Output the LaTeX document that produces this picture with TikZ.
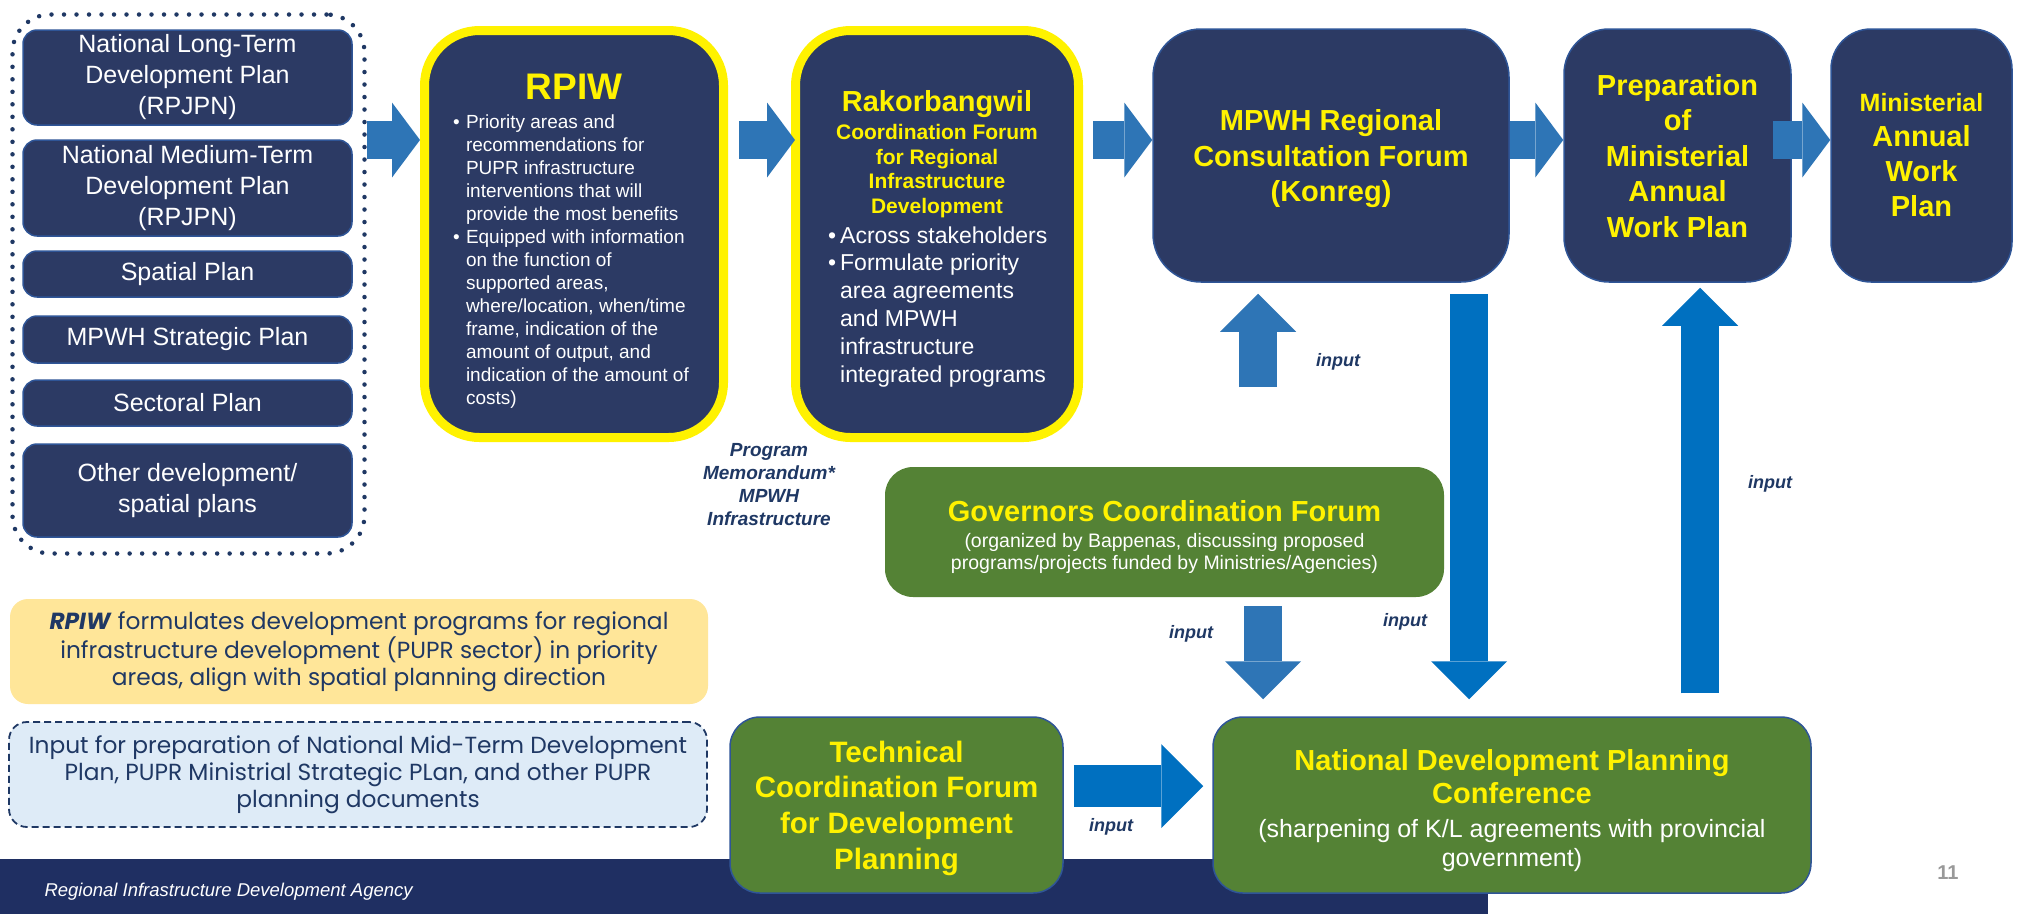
\documentclass[tikz,border=0pt]{standalone}
\usepackage{fontspec}
\setmainfont{Liberation Sans}
\newfontfamily\popfont{Poppins}
\usetikzlibrary{arrows.meta}

\definecolor{boxnavy}{HTML}{2C3A64}
\definecolor{boxedge}{HTML}{2F5597}
\definecolor{inknavy}{HTML}{1F3864}
\definecolor{flowblue}{HTML}{2E75B6}
\definecolor{deepblue}{HTML}{0070C0}
\definecolor{forumgreen}{HTML}{548235}
\definecolor{noteyellow}{HTML}{FFE699}
\definecolor{noteblue}{HTML}{DEEBF7}
\definecolor{barnavy}{HTML}{1F2F62}

% bullet paragraph with hanging indent
\newcommand{\bpt}[2][13pt]{\par\noindent\hangindent=#1\hangafter=1\makebox[#1][l]{\textbullet}#2\par}

\tikzset{
  plan/.style={fill=boxnavy, draw=boxedge, line width=1.5pt, rounded corners=14pt, inner sep=0pt,
    minimum width=329pt, text=white, align=center, font=\fontsize{25}{31}\selectfont},
  forum/.style={fill=boxnavy, draw=yellow, line width=9pt, rounded corners=55pt, inner sep=0pt},
  stage/.style={fill=boxnavy, draw=boxedge, line width=1.5pt, rounded corners=48pt, inner sep=0pt,
    minimum height=253pt, text=yellow, align=center, font=\fontsize{29}{35.5}\selectfont\bfseries},
  meeting/.style={fill=forumgreen, rounded corners=28pt, inner sep=0pt, align=center},
  note/.style={rounded corners=18pt, inner sep=0pt, minimum width=698pt, minimum height=105pt,
    align=center, text=inknavy, font=\popfont\fontsize{23.3}{27}\selectfont},
  inlabel/.style={text=inknavy, font=\fontsize{18}{22}\selectfont\bfseries\itshape},
  flow/.style={draw=flowblue, line width=38pt, -{Triangle[length=28pt,width=75pt,line width=0pt]}},
  lane/.style={draw=#1, line width=38pt, -{Triangle[length=38pt,width=76pt,line width=0pt]}},
}

\begin{document}
\begin{tikzpicture}[x=1pt,y=-1pt]
\useasboundingbox (0,0) rectangle (2022,914);
\fill[white] (0,0) rectangle (2022,914);

% footer band
\fill[barnavy] (0,859) rectangle (1488,914);
\node[anchor=west, text=white, font=\fontsize{18.5}{22}\selectfont\itshape] (footer) at (41,892) {Regional Infrastructure Development Agency};
\node[text=gray!80, font=\fontsize{20}{24}\selectfont\bfseries] (pageno) at (1948,873) {11};

% source plans
\node[draw=inknavy, line width=4.5pt, dash pattern=on 0pt off 12.5pt, line cap=round, rounded corners=38pt,
  minimum width=352pt, minimum height=539pt] (plans) at (188.5,284) {};
\foreach \nm/\cy/\bh/\txt in {ltp/77.5/95/{National Long-Term\\Development Plan\\(RPJPN)},
    mtp/188/96/{National Medium-Term\\Development Plan\\(RPJPN)},
    spatial/274/46/{Spatial Plan}, strategic/339.5/47/{MPWH Strategic Plan},
    sectoral/403/46/{Sectoral Plan}, other/490.5/93/{Other development/\\spatial plans}}
  \node[plan, minimum height=\bh pt] (\nm) at (187.5,\cy) {\txt};

% RPIW
\node[forum, minimum width=299pt, minimum height=407pt] (rpiw) at (574,234) {};
\node[text=yellow, font=\fontsize{37}{40}\selectfont\bfseries] (rpiwtitle) at (574,87) {RPIW};
\node[anchor=north, inner sep=0pt, text width=242pt, align=flush left, text=white, font=\fontsize{19}{23}\selectfont] (rpiwtext) at (574,105)
  {\bpt{Priority areas and\newline recommendations for\newline PUPR infrastructure\newline interventions that will\newline provide the most benefits}%
   \bpt{Equipped with information\newline on the function of\newline supported areas,\newline where/location, when/time\newline frame, indication of the\newline amount of output, and\newline indication of the amount of\newline costs)}};

% Rakorbangwil
\node[forum, minimum width=283pt, minimum height=407pt] (rakor) at (937,234) {};
\node[text=yellow, font=\fontsize{29}{33}\selectfont\bfseries] (rakortitle) at (937,104) {Rakorbangwil};
\node[anchor=north, inner sep=0pt, text=yellow, align=center, font=\fontsize{21}{24.7}\selectfont\bfseries] (rakorsub) at (937,124)
  {Coordination Forum\\for Regional\\Infrastructure\\Development};
\node[anchor=north west, inner sep=0pt, text width=235pt, align=flush left, text=white, font=\fontsize{23}{27.8}\selectfont] (rakortext) at (828,215)
  {\bpt[12pt]{Across stakeholders}\bpt[12pt]{Formulate priority\newline area agreements\newline and MPWH\newline infrastructure\newline integrated programs}};

% planning stages
\node[stage, minimum width=356pt, text depth=-3pt] (konreg) at (1331,155.5) {MPWH Regional\\Consultation Forum\\(Konreg)};
\node[stage, minimum width=227pt, rounded corners=45pt, text depth=-8pt] (prep) at (1677.5,155.5) {Preparation\\of\\Ministerial\\Annual\\Work Plan};
\node[stage, minimum width=181pt, rounded corners=40pt, text width=175pt, align=flush center, font=\fontsize{29}{35}\selectfont\bfseries] (annual) at (1921.5,155.5)
  {{\fontsize{25}{35}\selectfont Ministerial\par}Annual\\Work\\Plan};

% forums
\node[meeting, minimum width=559pt, minimum height=130pt] (governors) at (1164.5,532) {};
\node[text width=545pt, align=flush center, inner sep=0pt, text=white] (govtext) at (1164.5,537)
  {{\fontsize{29}{33}\selectfont\bfseries\color{yellow}Governors Coordination Forum\par}\vspace{4pt}%
   {\fontsize{19.5}{22}\selectfont(organized by Bappenas, discussing proposed\\programs/projects funded by Ministries/Agencies)\par}};
\node[meeting, draw=boxedge, line width=1.5pt, rounded corners=30pt, minimum width=333pt, minimum height=176pt, text=yellow,
  text depth=-3pt, font=\fontsize{29.5}{35.7}\selectfont\bfseries] (technical) at (896.5,805) {Technical\\Coordination Forum\\for Development\\Planning};
\node[meeting, draw=boxedge, line width=1.5pt, rounded corners=30pt, minimum width=598pt, minimum height=176pt] (national) at (1512,805) {};
\node[text width=580pt, align=flush center, inner sep=0pt, text=white] (nattext) at (1512,811)
  {{\fontsize{29}{33}\selectfont\bfseries\color{yellow}National Development Planning\\Conference\par}\vspace{5pt}%
   {\fontsize{25}{29}\selectfont(sharpening of K/L agreements with provincial\\government)\par}};

\node[align=center, text=inknavy, font=\fontsize{19}{23}\selectfont\bfseries\itshape] (memo) at (769,484.5) {Program\\Memorandum*\\MPWH\\Infrastructure};

% notes
\node[note, fill=noteyellow] (remark) at (359,651.5) {\textbf{\textit{RPIW}} formulates development programs for regional\\infrastructure development (PUPR sector) in priority\\areas, align with spatial planning direction};
\node[note, fill=noteblue, draw=inknavy, line width=1.8pt, dash pattern=on 7pt off 4pt] (usage) at (358,774.5) {Input for preparation of National Mid-Term Development\\Plan, PUPR Ministrial Strategic PLan, and other PUPR\\planning documents};

% main flow
\coordinate (row) at (0,140);
\draw[flow] (plans.east |- row) -- (rpiw.west |- row);
\draw[flow] ([xshift=11pt]rpiw.east |- row) -- ([xshift=4pt]rakor.west |- row);
\draw[flow] ([xshift=10pt]rakor.east |- row) -- (konreg.west |- row);
\draw[flow] (konreg.east |- row) -- (prep.west |- row);
\draw[flow] ([xshift=-19pt]prep.east |- row) -- (annual.west |- row);

% inputs
\coordinate (konfeed) at (1258,387);
\draw[lane=flowblue] (konfeed) -- ([yshift=-11pt]konreg.south -| konfeed);
\draw[lane=deepblue] ([xshift=138pt,yshift=-11pt]konreg.south) -- ([xshift=-43pt,yshift=17pt]national.north);
\draw[lane=deepblue] ([xshift=188pt,yshift=23pt]national.north) -- ([xshift=22.5pt,yshift=-5pt]prep.south);
\draw[lane=flowblue] ([xshift=98.5pt,yshift=-9pt]governors.south) -- ([xshift=-249pt,yshift=17pt]national.north);
\draw[deepblue, line width=42pt, -{Triangle[length=42pt,width=84pt,line width=0pt]}] ([xshift=10pt,yshift=19pt]technical.east) -- ([xshift=-9pt,yshift=19pt]national.west);

\node[inlabel] (inkon) at (1338,362) {input};
\node[inlabel] (indown) at (1405,622) {input};
\node[inlabel] (inup) at (1770,484) {input};
\node[inlabel] (ingov) at (1191,634) {input};
\node[inlabel] (intech) at (1111,827) {input};
\end{tikzpicture}
\end{document}
